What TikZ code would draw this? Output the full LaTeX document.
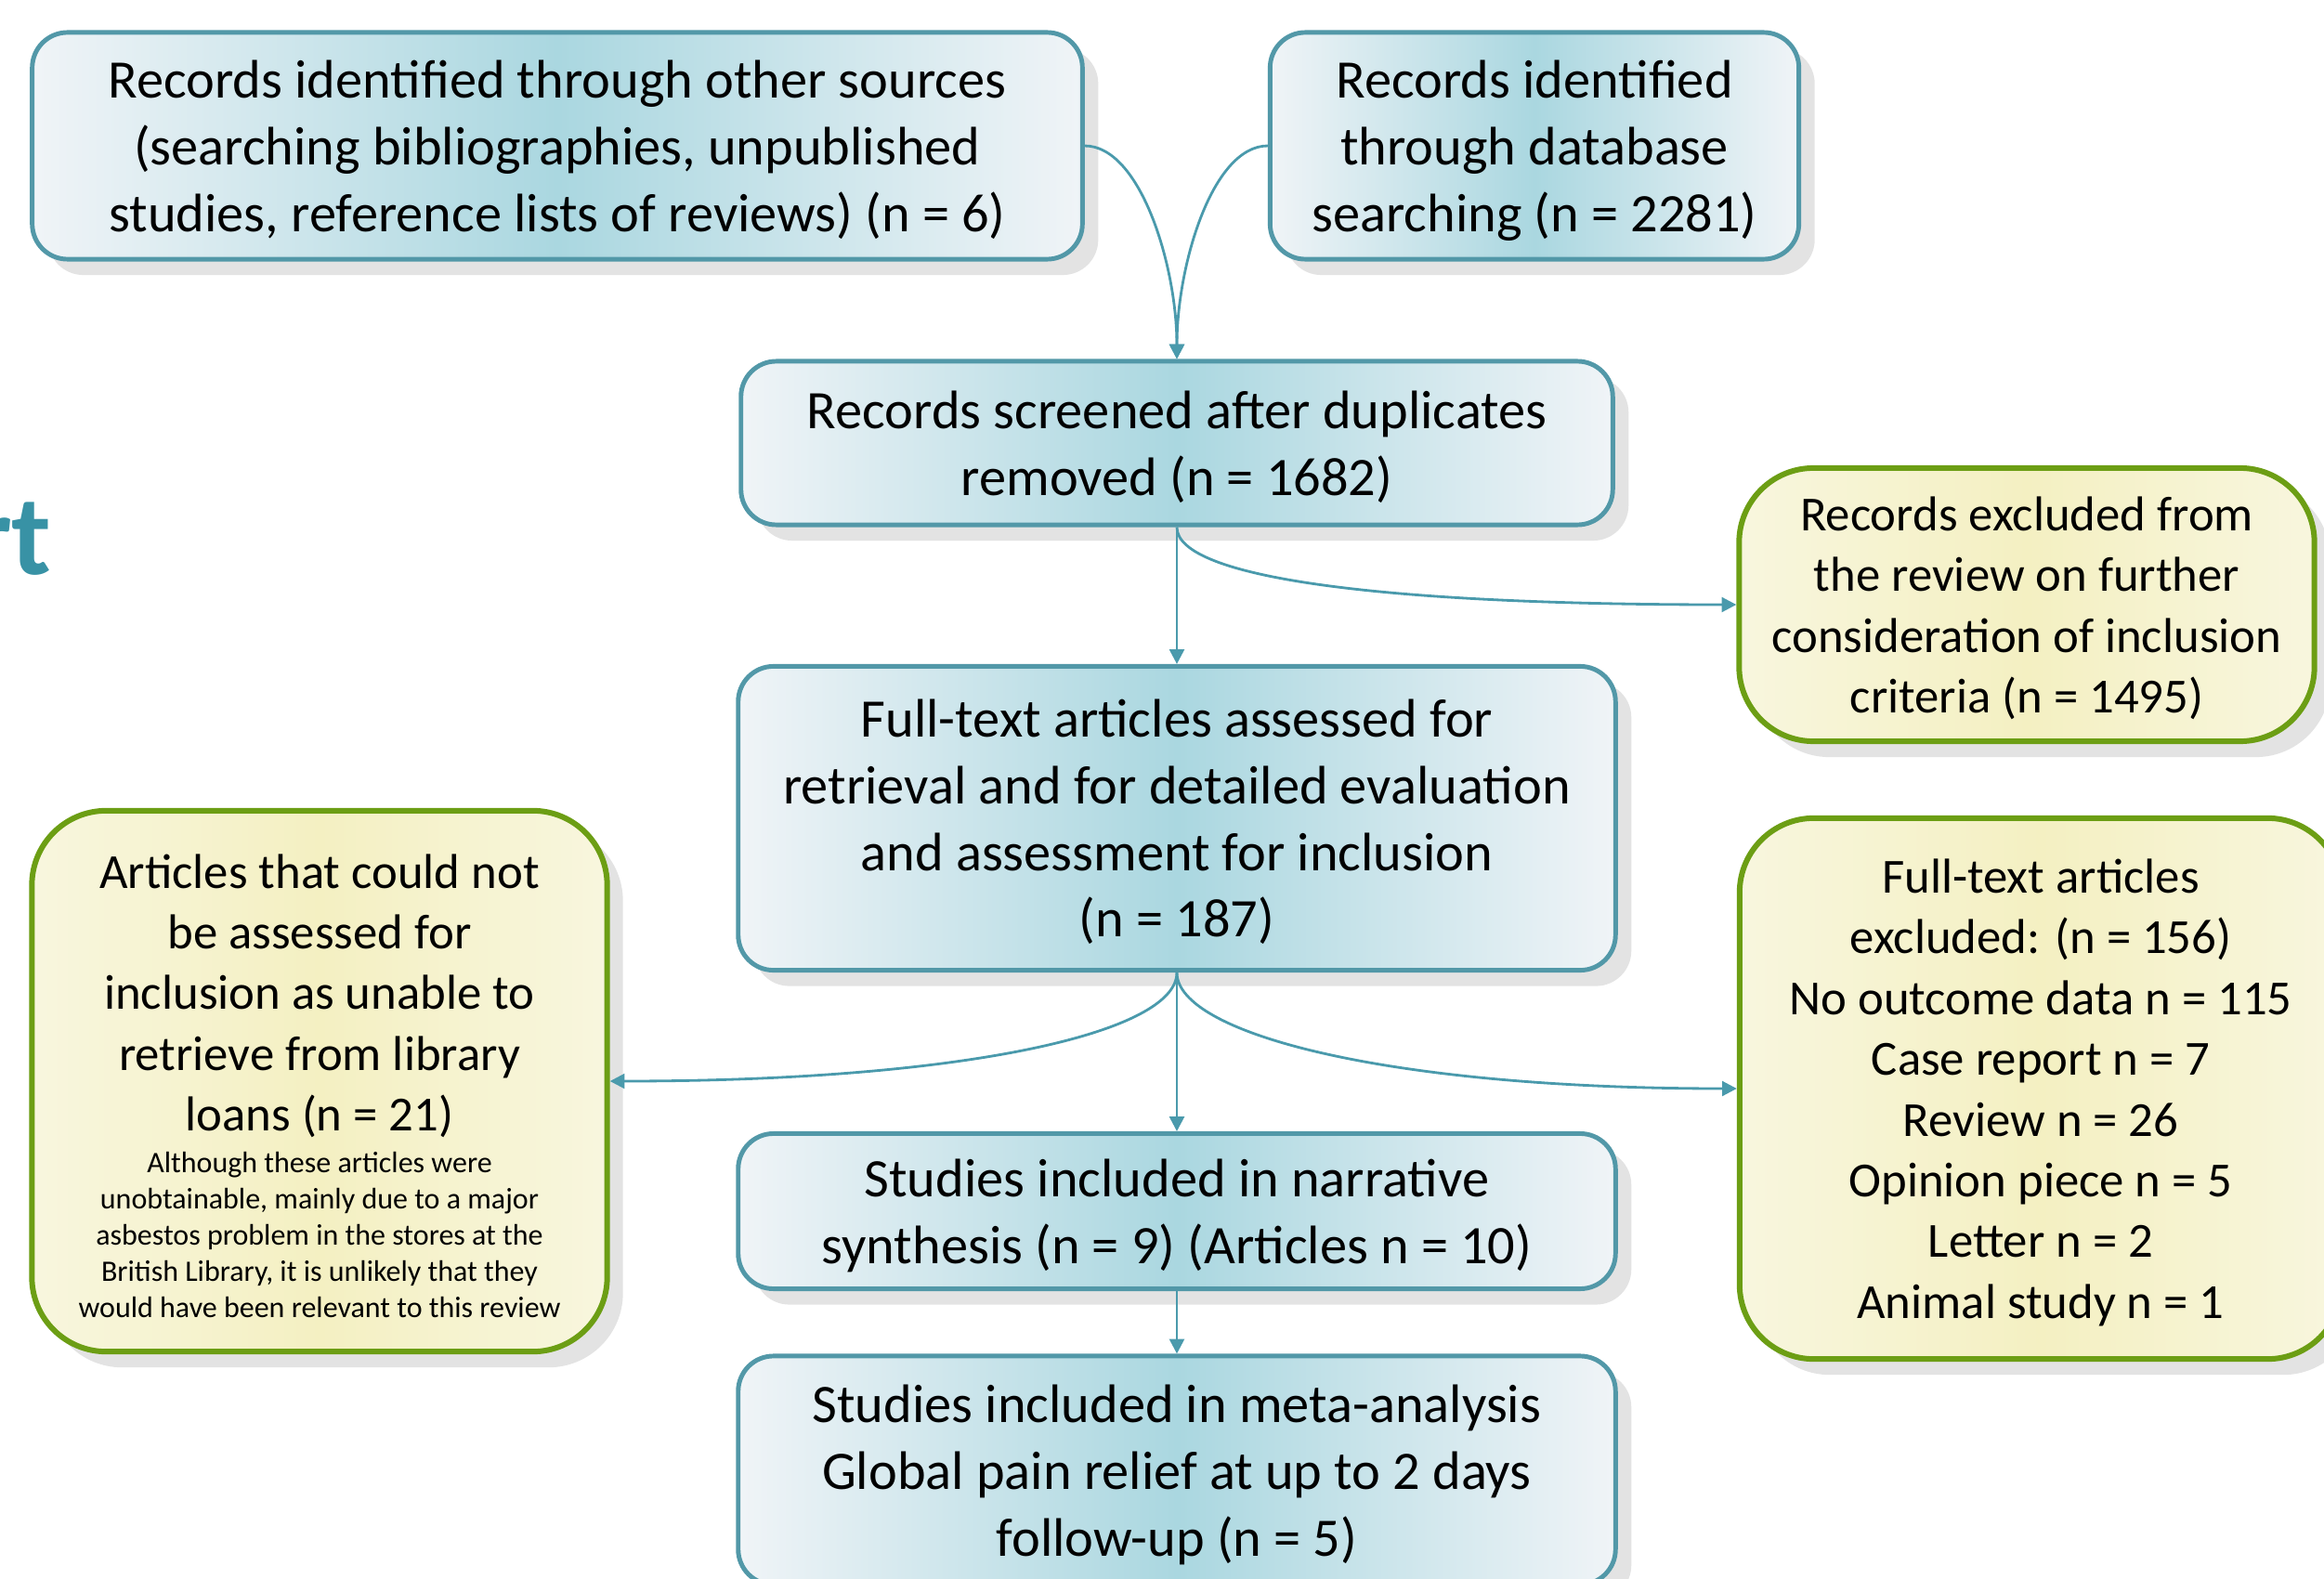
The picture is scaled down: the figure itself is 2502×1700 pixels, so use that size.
\documentclass[tikz,border=0pt]{standalone}
\usepackage{fontspec}
\setmainfont{Carlito}
\usepackage{xcolor}
\usepackage{tikz}
\usetikzlibrary{arrows.meta}
\usetikzlibrary{shadows}

\definecolor{boxblue}{RGB}{82,152,168}
\definecolor{blueedge}{RGB}{240,244,247}
\definecolor{bluemid}{RGB}{170,215,224}
\definecolor{boxgreen}{RGB}{108,158,20}
\definecolor{yellowedge}{RGB}{248,246,222}
\definecolor{yellowmid}{RGB}{244,240,194}
\definecolor{arrowblue}{RGB}{74,154,172}
\definecolor{titleteal}{RGB}{56,146,165}

\begin{document}
\begin{tikzpicture}[x=0.01cm, y=-0.01cm]
\useasboundingbox (0,0) rectangle (2502,1700);
\clip (0,0) rectangle (2502,1700);

% end of the title, cut off at the left
\node[anchor=base east, text=titleteal, font=\fontsize{35}{40}\selectfont\bfseries] (title) at (68,618) {rt};

\begin{scope}[every node/.style={draw=boxblue, line width=1.4pt, rounded corners=0.38cm,
      left color=blueedge, right color=blueedge, middle color=bluemid,
      drop shadow={shadow xshift=0.17cm, shadow yshift=-0.17cm, fill=black!11, opacity=1},
      align=center, inner sep=0pt, text depth=0pt, font=\fontsize{16.6}{20.4}\selectfont}]
   \node[minimum width=11.3cm, minimum height=2.44cm] (other) at (600,157)
      {Records identified through other sources\\(searching bibliographies, unpublished\\studies, reference lists of reviews) (n = 6)};
   \node[minimum width=5.69cm, minimum height=2.44cm] (dbase) at (1652,157)
      {Records identified\\through database\\searching (n = 2281)};
   \node[minimum width=9.38cm, minimum height=1.76cm] (screen) at (1267,477)
      {Records screened after duplicates\\removed (n = 1682)};
   \node[minimum width=9.44cm, minimum height=3.27cm] (fulltext) at (1267,881)
      {Full-text articles assessed for\\retrieval and for detailed evaluation\\and assessment for inclusion\\(n = 187)};
   \node[minimum width=9.44cm, minimum height=1.67cm] (narrative) at (1267,1304)
      {Studies included in narrative\\synthesis (n = 9) (Articles n = 10)};
   \node[minimum width=9.44cm, minimum height=2.46cm] (meta) at (1267,1583)
      {Studies included in meta-analysis\\Global pain relief at up to 2 days\\follow-up (n = 5)};
\end{scope}

\begin{scope}[every node/.style={draw=boxgreen, line width=1.7pt, rounded corners=0.8cm,
      left color=yellowedge, right color=yellowedge, middle color=yellowmid,
      drop shadow={shadow xshift=0.17cm, shadow yshift=-0.17cm, fill=black!11, opacity=1},
      align=flush center, inner sep=0pt, font=\fontsize{15}{18.6}\selectfont}]
   \node[minimum width=6.19cm, minimum height=2.94cm, text depth=0pt] (excl1) at (2182,651)
      {Records excluded from\\the review on further\\consideration of inclusion\\criteria (n = 1495)};
   \node[minimum width=6.19cm, minimum height=5.82cm, text width=6cm] (noloan) at (344,1164)
      {\rule{0pt}{13.2pt}Articles that could not\\be assessed for\\inclusion as unable to\\retrieve from library\\loans (n = 21)\par\vspace{1.5pt}
       \fontsize{9.1}{11.1}\selectfont Although these articles were\\unobtainable, mainly due to a major\\asbestos problem in the stores at the\\British Library, it is unlikely that they\\would have been relevant to this review\par};
   \node[minimum width=6.48cm, minimum height=5.82cm, text depth=0pt] (excl2) at (2197,1172)
      {Full-text articles\\excluded: (n = 156)\\No outcome data n = 115\\Case report n = 7\\Review n = 26\\Opinion piece n = 5\\Letter n = 2\\Animal study n = 1};
\end{scope}

\begin{scope}[>={Triangle[length=4.5pt,width=4.5pt]},
             every edge/.style={draw=arrowblue, line width=0.8pt}]
   \path [->] (other.east) edge[to path={.. controls +(60,0) and +(0,-100) .. (\tikztotarget)}] (screen.north);
   \path [->] (dbase.west) edge[to path={.. controls +(-60,0) and +(0,-100) .. (\tikztotarget)}] (screen.north);

   \path [->] (screen.south) edge (fulltext.north);
   \path [->] (screen.south) edge[to path={.. controls +(0,55) and +(-380,0) .. (\tikztotarget)}] (excl1.west);

   \path [->] (fulltext.south) edge[to path={.. controls +(0,65) and +(380,0) .. (\tikztotarget)}] (noloan.east);
   \path [->] (fulltext.south) edge[to path={.. controls +(0,65) and +(-380,0) .. (\tikztotarget)}] (excl2.west);
   \path [->] (fulltext.south) edge (narrative.north);

   \path [->] (narrative.south) edge (meta.north);
\end{scope}
\end{tikzpicture}
\end{document}
